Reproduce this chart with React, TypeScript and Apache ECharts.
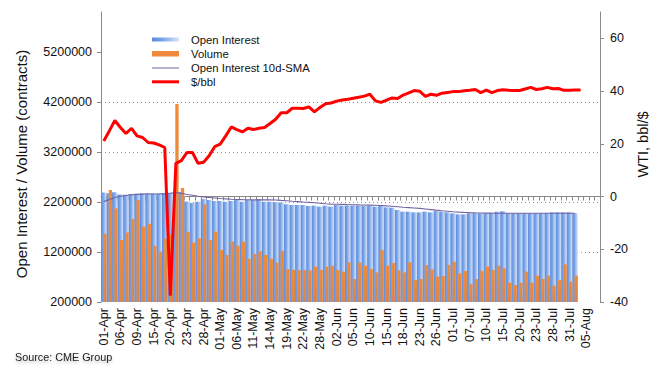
import React, { useEffect, useRef } from 'react';
import * as echarts from 'echarts';

const categories = [
  '01-Apr', '02-Apr', '03-Apr', '06-Apr', '07-Apr', '08-Apr', '09-Apr', '13-Apr', '14-Apr', '15-Apr', '16-Apr', '17-Apr', '20-Apr', '21-Apr', '22-Apr', '23-Apr', '24-Apr', '27-Apr', '28-Apr', '29-Apr', '30-Apr',
  '01-May', '04-May', '05-May', '06-May', '07-May', '08-May', '11-May', '12-May', '13-May', '14-May', '15-May', '18-May', '19-May', '20-May', '21-May', '22-May', '26-May', '27-May', '28-May', '29-May',
  '01-Jun', '02-Jun', '03-Jun', '04-Jun', '05-Jun', '08-Jun', '09-Jun', '10-Jun', '11-Jun', '12-Jun', '15-Jun', '16-Jun', '17-Jun', '18-Jun', '19-Jun', '22-Jun', '23-Jun', '24-Jun', '25-Jun', '26-Jun', '29-Jun', '30-Jun',
  '01-Jul', '02-Jul', '06-Jul', '07-Jul', '08-Jul', '09-Jul', '10-Jul', '13-Jul', '14-Jul', '15-Jul', '16-Jul', '17-Jul', '20-Jul', '21-Jul', '22-Jul', '23-Jul', '24-Jul', '27-Jul', '28-Jul', '29-Jul', '30-Jul', '31-Jul',
  '03-Aug', '04-Aug', '05-Aug', '06-Aug', '07-Aug',
];

// Open interest (contracts)
const openInterest = [
  2390000, 2375000, 2395000, 2350000, 2345000, 2360000, 2365000, 2370000, 2375000, 2370000, 2365000, 2380000, 2385000, 2395000, 2400000, 2210000, 2180000, 2205000, 2260000, 2240000, 2220000,
  2220000, 2205000, 2220000, 2240000, 2205000, 2240000, 2240000, 2260000, 2205000, 2205000, 2195000, 2190000, 2155000, 2140000, 2140000, 2140000, 2120000, 2127000, 2107000, 2127000,
  2107000, 2140000, 2127000, 2127000, 2127000, 2127000, 2127000, 2127000, 2107000, 2140000, 2093000, 2087000, 2040000, 2007000, 2007000, 1993000, 1993000, 2007000, 1993000, 2020000, 2007000, 1993000,
  1973000, 1953000, 1953000, 1973000, 1973000, 1973000, 1973000, 1975000, 2005000, 2015000, 1975000, 1973000, 1975000, 1975000, 1975000, 1975000, 1975000, 1980000, 1993000, 1993000, 1993000, 1993000,
  1975000, null, null, null, null,
];

// Volume (contracts)
const volume = [
  1565000, 2440000, 2073000, 1440000, 1590000, 1860000, 2240000, 1707000, 1765000, 1320000, 1207000, 1465000, 1550000, 4160000, 2480000, 1605000, 1387000, 1473000, 2155000, 1440000, 1607000,
  1240000, 1140000, 1407000, 1325000, 1407000, 1063000, 1160000, 1215000, 1140000, 1065000, 990000, 1222000, 857000, 840000, 840000, 840000, 830000, 907000, 840000, 907000,
  927000, 840000, 807000, 993000, 660000, 987000, 927000, 860000, 793000, 1240000, 927000, 980000, 833000, 793000, 993000, 640000, 660000, 940000, 853000, 707000, 720000, 940000,
  1007000, 773000, 820000, 560000, 660000, 820000, 907000, 840000, 927000, 873000, 587000, 540000, 587000, 807000, 587000, 727000, 660000, 727000, 527000, 640000, 953000, 607000,
  727000, null, null, null, null,
];

// Open interest 10-day simple moving average
const oiSma10 = [
  2207000, 2250000, 2290000, 2315000, 2330000, 2345000, 2353000, 2358000, 2360000, 2360000, 2362000, 2365000, 2375000, 2387000, 2375000, 2350000, 2335000, 2315000, 2300000, 2290000, 2280000,
  2270000, 2262000, 2255000, 2250000, 2247000, 2245000, 2244000, 2245000, 2243000, 2242000, 2240000, 2232000, 2225000, 2215000, 2208000, 2200000, 2193000, 2185000, 2175000, 2165000,
  2158000, 2155000, 2152000, 2148000, 2145000, 2142000, 2140000, 2138000, 2135000, 2130000, 2122000, 2115000, 2105000, 2095000, 2088000, 2080000, 2072000, 2060000, 2048000, 2036000, 2025000, 2015000,
  2005000, 1998000, 1992000, 1987000, 1983000, 1980000, 1978000, 1976000, 1975000, 1975000, 1975000, 1975000, 1975000, 1975000, 1975000, 1975000, 1975000, 1975000, 1975000, 1975000, 1975000, 1975000,
  1975000, null, null, null, null,
];

// WTI price, $/bbl
const wti = [
  21.1, 24.9, 28.9, 26.2, 23.9, 25.9, 23.0, 22.4, 20.5, 20.3, 19.6, 18.6, -37.6, 12.6, 13.6, 16.7, 16.7, 12.6, 13.0, 15.5, 18.9,
  19.9, 23.0, 26.4, 25.4, 24.5, 25.9, 25.4, 25.9, 26.2, 27.7, 29.3, 31.8, 31.8, 33.5, 33.5, 33.4, 34.0, 32.1, 33.8, 35.2,
  35.5, 36.2, 36.6, 36.9, 37.3, 37.7, 38.1, 38.8, 36.3, 35.7, 36.6, 37.4, 37.2, 38.5, 39.3, 40.2, 39.9, 38.0, 38.8, 38.4, 39.2, 39.5,
  39.8, 39.8, 40.1, 40.3, 40.6, 39.4, 40.4, 39.4, 40.2, 40.5, 40.3, 40.2, 40.2, 40.8, 41.4, 40.6, 40.9, 41.4, 40.9, 41.0, 40.3, 40.3,
  40.4, 40.4, null, null, null,
];

const leftTicks = ['200000', '1200000', '2200000', '3200000', '4200000', '5200000'];
const rightTicks = ['-40', '-20', '0', '20', '40', '60'];

const FONT = "'Liberation Sans', Arial, Helvetica, sans-serif";
const AXIS_GREY = '#8a8a8a';

const blueFill = () =>
  new echarts.graphic.LinearGradient(0, 0, 1, 0, [
    { offset: 0, color: '#5b8bdb' },
    { offset: 0.4, color: '#7aa4e8' },
    { offset: 1, color: '#d9e5f8' },
  ]);
const orangeFill = () =>
  new echarts.graphic.LinearGradient(0, 0, 0, 1, [
    { offset: 0, color: '#f28a36' },
    { offset: 1, color: '#d7864f' },
  ]);

export default function App() {
  const ref = useRef<HTMLDivElement>(null);

  useEffect(() => {
    if (!ref.current) return;
    document.body.style.margin = '0';
    const chart = echarts.init(ref.current, undefined, { renderer: 'svg' });
    const leftVals = leftTicks.map(Number);
    const rightVals = rightTicks.map(Number);

    const legendRows = [
      { label: 'Open Interest', y: 39.5 },
      { label: 'Volume', y: 53.5 },
      { label: 'Open Interest 10d-SMA', y: 67.8 },
      { label: '$/bbl', y: 81.8 },
    ];

    chart.setOption({
      animation: false,
      textStyle: { fontFamily: FONT },
      grid: { left: 101, right: 61, top: 12, bottom: 75, containLabel: false },
      xAxis: {
        type: 'category',
        data: categories,
        boundaryGap: true,
        axisLine: { show: true, lineStyle: { color: AXIS_GREY } },
        axisTick: { show: true, interval: 0, length: 4, lineStyle: { color: AXIS_GREY } },
        axisLabel: { interval: 2, rotate: 90, fontSize: 12.5, color: '#111', margin: 6, fontFamily: FONT },
        splitLine: { show: false },
      },
      yAxis: [
        {
          type: 'value',
          position: 'left',
          min: 200000,
          max: 6000000,
          interval: 1000000,
          axisLine: { show: true, lineStyle: { color: AXIS_GREY } },
          axisTick: { show: true, length: 4, lineStyle: { color: AXIS_GREY }, customValues: leftVals },
          axisLabel: {
            fontSize: 12.5,
            color: '#111',
            margin: 9,
            fontFamily: FONT,
            customValues: leftVals,
            formatter: (v: number) => String(Math.round(v)),
          },
          splitLine: {
            show: true,
            showMinLine: false,
            showMaxLine: false,
            lineStyle: { type: [1, 3], color: '#8f8f8f', width: 1 },
          },
        },
        {
          type: 'value',
          position: 'right',
          min: -40,
          max: 70,
          interval: 20,
          axisLine: { show: true, lineStyle: { color: AXIS_GREY } },
          axisTick: { show: true, length: 4, lineStyle: { color: AXIS_GREY }, customValues: rightVals },
          axisLabel: {
            fontSize: 12.5,
            color: '#111',
            margin: 10,
            fontFamily: FONT,
            customValues: rightVals,
            formatter: (v: number) => String(Math.round(v)),
          },
          splitLine: { show: false },
        },
      ],
      series: [
        {
          name: 'Open Interest',
          type: 'bar',
          yAxisIndex: 0,
          data: openInterest,
          barWidth: '100%',
          barGap: '-60%',
          barCategoryGap: '0%',
          itemStyle: { color: blueFill() },
        },
        {
          name: 'Volume',
          type: 'bar',
          yAxisIndex: 0,
          data: volume,
          barWidth: '60%',
          barGap: '-60%',
          barCategoryGap: '0%',
          itemStyle: { color: orangeFill() },
        },
        {
          name: 'Open Interest 10d-SMA',
          type: 'line',
          yAxisIndex: 0,
          data: oiSma10,
          symbol: 'none',
          lineStyle: { color: '#7463a3', width: 1.2 },
          itemStyle: { color: '#7463a3' },
        },
        {
          name: '$/bbl',
          type: 'line',
          yAxisIndex: 1,
          data: wti,
          symbol: 'none',
          lineStyle: { color: '#ff0000', width: 3 },
          itemStyle: { color: '#ff0000' },
        },
      ],
      graphic: [
        {
          type: 'rect',
          shape: { x: 152, y: 37.5, width: 27, height: 4 },
          style: { fill: blueFill() },
        },
        {
          type: 'rect',
          shape: { x: 152, y: 51, width: 27, height: 5.5 },
          style: { fill: '#f08a3c' },
        },
        {
          type: 'line',
          shape: { x1: 152, y1: 68, x2: 179, y2: 68 },
          style: { stroke: '#6f6a9c', lineWidth: 1 },
        },
        {
          type: 'line',
          shape: { x1: 152, y1: 81.8, x2: 179, y2: 81.8 },
          style: { stroke: '#ff0000', lineWidth: 3 },
        },
        ...legendRows.map((r) => ({
          type: 'text',
          x: 191,
          y: r.y,
          style: {
            text: r.label,
            fontSize: 11.3,
            fontFamily: FONT,
            fill: '#111',
            textAlign: 'left',
            textVerticalAlign: 'middle',
          },
        })),
        {
          type: 'text',
          x: 21,
          y: 164,
          rotation: Math.PI / 2,
          style: {
            text: 'Open Interest / Volume (contracts)',
            fontSize: 15,
            fontFamily: FONT,
            fill: '#111',
            textAlign: 'center',
            textVerticalAlign: 'middle',
          },
        },
        {
          type: 'text',
          x: 643,
          y: 144.5,
          rotation: Math.PI / 2,
          style: {
            text: 'WTI, bbl/$',
            fontSize: 14.5,
            fontFamily: FONT,
            fill: '#111',
            textAlign: 'center',
            textVerticalAlign: 'middle',
          },
        },
        {
          type: 'text',
          x: 15,
          y: 357,
          style: {
            text: 'Source: CME Group',
            fontSize: 10.8,
            fontFamily: FONT,
            fill: '#222',
            textAlign: 'left',
            textVerticalAlign: 'middle',
            textShadowColor: 'rgba(0,0,0,0.25)',
            textShadowBlur: 3,
            textShadowOffsetY: 2,
          },
        },
      ],
    });

    return () => {
      chart.dispose();
    };
  }, []);

  return <div ref={ref} style={{ width: 661, height: 377 }} />;
}
